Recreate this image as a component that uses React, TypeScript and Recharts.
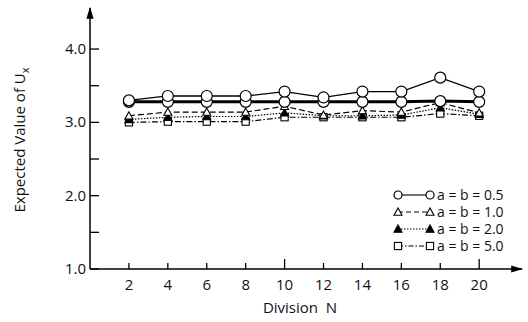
import React from 'react';
import { LineChart, Line, XAxis, YAxis, Label } from 'recharts';

const divisions = [2, 4, 6, 8, 10, 12, 14, 16, 18, 20];
const half = [3.3, 3.36, 3.36, 3.36, 3.42, 3.34, 3.42, 3.42, 3.61, 3.42];
const halfBase = [3.28, 3.28, 3.28, 3.28, 3.28, 3.28, 3.28, 3.28, 3.29, 3.28];
const one = [3.09, 3.14, 3.14, 3.14, 3.22, 3.1, 3.16, 3.14, 3.27, 3.13];
const two = [3.04, 3.07, 3.08, 3.08, 3.13, 3.09, 3.09, 3.1, 3.2, 3.11];
const five = [3.0, 3.01, 3.01, 3.01, 3.07, 3.07, 3.07, 3.07, 3.12, 3.09];

const yTicks = [1, 1.5, 2, 2.5, 3, 3.5, 4];
const yLabels: Record<number, string> = { 1: '1.0', 2: '2.0', 3: '3.0', 4: '4.0' };
const legendItems = ['a = b = 0.5', 'a = b = 1.0', 'a = b = 2.0', 'a = b = 5.0'];

const data = divisions.map((n, i) => ({
  n,
  half: half[i],
  halfBase: halfBase[i],
  one: one[i],
  two: two[i],
  five: five[i],
}));

const FONT = '"Open Sans", "DejaVu Sans", sans-serif';

const marker = (kind: string, cx: number, cy: number, s: number, key?: string) => {
  if (kind === 'circle')
    return <circle key={key} cx={cx} cy={cy} r={s} fill="#fff" stroke="#000" strokeWidth={1.2} />;
  if (kind === 'tri' || kind === 'triFill')
    return (
      <polygon
        key={key}
        points={`${cx},${cy - s} ${cx - s},${cy + s * 0.8} ${cx + s},${cy + s * 0.8}`}
        fill={kind === 'tri' ? '#fff' : '#000'}
        stroke="#000"
        strokeWidth={1.1}
      />
    );
  return (
    <rect key={key} x={cx - s * 0.9} y={cy - s * 0.9} width={s * 1.8} height={s * 1.8} fill="#fff" stroke="#000" strokeWidth={1.1} />
  );
};

const dotFor = (kind: string, s: number) => (p: any) =>
  p.cx == null ? <g key={p.key} /> : marker(kind, p.cx, p.cy, s, p.key);

const YTick = (p: any) => {
  const v = p.payload.value;
  return (
    <g>
      <line x1={p.x} x2={p.x + 9} y1={p.y} y2={p.y} stroke="#000" strokeWidth={1.3} />
      {yLabels[v] && (
        <text x={p.x - 4} y={p.y + 5} textAnchor="end" fontSize={15} fontFamily={FONT} fill="#111">
          {yLabels[v]}
        </text>
      )}
    </g>
  );
};

const XTick = (p: any) => {
  const v = p.payload.value;
  const len = v % 10 === 0 ? 10 : 6;
  return (
    <g>
      <line x1={p.x} x2={p.x} y1={p.y} y2={p.y - len} stroke="#000" strokeWidth={1.3} />
      <text x={p.x} y={p.y + 21} textAnchor="middle" fontSize={15} fontFamily={FONT} fill="#111">
        {v}
      </text>
    </g>
  );
};

const legendStyles = [
  { kind: 'circle', dash: undefined },
  { kind: 'tri', dash: '5 3' },
  { kind: 'triFill', dash: '1.5 1.5' },
  { kind: 'square', dash: '5 2 1.5 2' },
];

const LegendBox = () => (
  <svg width={130} height={72} style={{ overflow: 'visible', display: 'block' }}>
    {legendItems.map((label, i) => {
      const y = 8 + i * 17;
      const st = legendStyles[i];
      return (
        <g key={label}>
          <line x1={5} x2={37} y1={y} y2={y} stroke="#000" strokeWidth={1.1} strokeDasharray={st.dash} />
          {marker(st.kind, 5, y, 4)}
          {marker(st.kind, 37, y, 4)}
          <text x={44} y={y + 5} fontSize={14} fontFamily={FONT} fill="#111">
            {label}
          </text>
        </g>
      );
    })}
  </svg>
);

export default function App() {
  return (
    <div style={{ position: 'absolute', left: 0, top: 0, width: 528, height: 322, background: '#fff' }}>
      <svg width={0} height={0} style={{ position: 'absolute' }}>
        <defs>
          <marker id="arrowX" viewBox="0 0 10 10" refX={9} refY={5} markerWidth={8} markerHeight={8} orient="auto">
            <path d="M0,2 L10,5 L0,8 z" fill="#000" />
          </marker>
          <marker id="arrowY" viewBox="0 0 10 10" refX={9} refY={5} markerWidth={8} markerHeight={8} orient="auto-start-reverse">
            <path d="M0,2 L10,5 L0,8 z" fill="#000" />
          </marker>
        </defs>
      </svg>
      <LineChart width={528} height={322} data={data} margin={{ top: 8, right: 6, left: 0, bottom: 0 }}>
        <XAxis
          dataKey="n"
          type="number"
          domain={[0, 22.2]}
          ticks={divisions}
          height={53}
          tickSize={0}
          tickMargin={0}
          tick={<XTick />}
          tickLine={false}
          axisLine={{ stroke: '#000', strokeWidth: 1.5, markerEnd: 'url(#arrowX)' }}
          allowDataOverflow
        >
          <Label
            content={() => (
              <text x={300} y={313} textAnchor="middle" fontSize={15} fontFamily={FONT} fill="#111" xmlSpace="preserve">
                Division  N
              </text>
            )}
          />
        </XAxis>
        <YAxis
          type="number"
          domain={[1, 4.56]}
          ticks={yTicks}
          width={90}
          tickSize={0}
          tickMargin={0}
          tick={<YTick />}
          tickLine={false}
          axisLine={{ stroke: '#000', strokeWidth: 1.5, markerStart: 'url(#arrowY)' }}
          allowDataOverflow
        >
          <Label
            content={() => (
              <text
                transform="translate(25,140) rotate(-90)"
                textAnchor="middle"
                fontSize={15}
                fontFamily={FONT}
                fill="#111"
              >
                Expected Value of U
                <tspan fontSize={11} dy={4}>x</tspan>
              </text>
            )}
          />
        </YAxis>
        <Line dataKey="five" stroke="#000" strokeWidth={1.2} strokeDasharray="6 2 1.5 2" dot={dotFor('square', 4)} isAnimationActive={false} />
        <Line dataKey="two" stroke="#000" strokeWidth={1.2} strokeDasharray="1.5 1.5" dot={dotFor('triFill', 4)} isAnimationActive={false} />
        <Line dataKey="one" stroke="#000" strokeWidth={1.2} strokeDasharray="6 3" dot={dotFor('tri', 4)} isAnimationActive={false} />
        <Line dataKey="halfBase" stroke="#000" strokeWidth={3} dot={dotFor('circle', 5.5)} isAnimationActive={false} />
        <Line dataKey="half" stroke="#000" strokeWidth={1.3} dot={dotFor('circle', 5.5)} isAnimationActive={false} />
      </LineChart>
      <div style={{ position: 'absolute', left: 393, top: 187 }}>
        <LegendBox />
      </div>
    </div>
  );
}
